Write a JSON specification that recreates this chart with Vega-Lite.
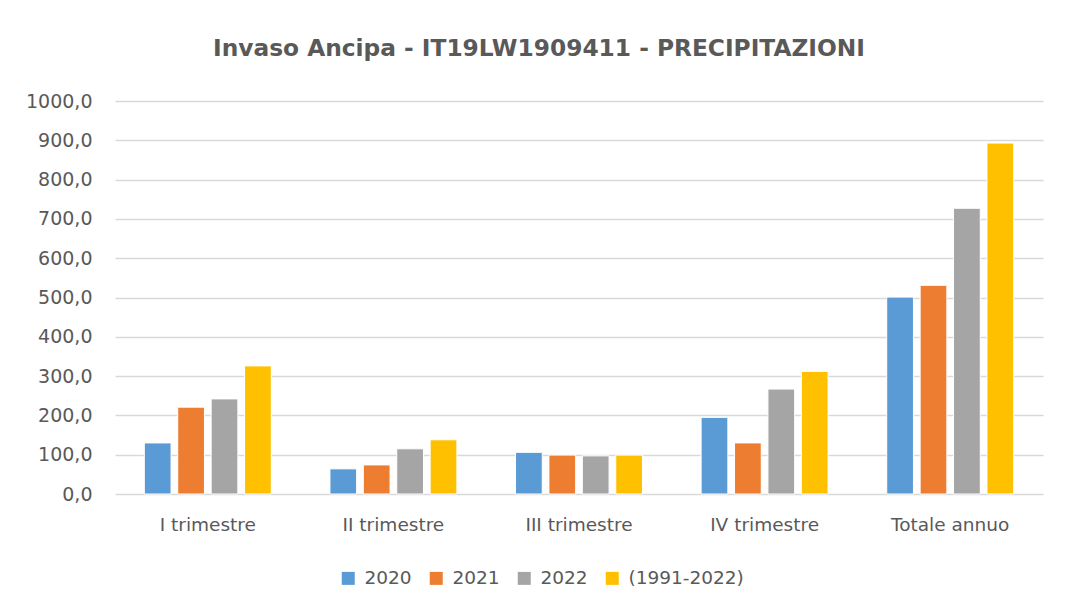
{
  "$schema": "https://vega.github.io/schema/vega-lite/v6.json",
  "width": 928,
  "height": 393,
  "autosize": {"type": "none"},
  "padding": {"left": 115, "top": 101, "right": 32, "bottom": 120},
  "background": "white",
  "title": {
    "text": "Invaso Ancipa - IT19LW1909411 - PRECIPITAZIONI",
    "font": "DejaVu Sans",
    "fontSize": 23.3,
    "fontWeight": "bold",
    "color": "#595959",
    "anchor": "middle",
    "dx": -40,
    "offset": 31
  },
  "data": {
    "values": [
      {"periodo": "I trimestre", "serie": "2020", "mm": 130},
      {"periodo": "I trimestre", "serie": "2021", "mm": 221},
      {"periodo": "I trimestre", "serie": "2022", "mm": 242},
      {"periodo": "I trimestre", "serie": "(1991-2022)", "mm": 326},
      {"periodo": "II trimestre", "serie": "2020", "mm": 64},
      {"periodo": "II trimestre", "serie": "2021", "mm": 74},
      {"periodo": "II trimestre", "serie": "2022", "mm": 115},
      {"periodo": "II trimestre", "serie": "(1991-2022)", "mm": 138},
      {"periodo": "III trimestre", "serie": "2020", "mm": 106},
      {"periodo": "III trimestre", "serie": "2021", "mm": 99},
      {"periodo": "III trimestre", "serie": "2022", "mm": 97},
      {"periodo": "III trimestre", "serie": "(1991-2022)", "mm": 99},
      {"periodo": "IV trimestre", "serie": "2020", "mm": 195},
      {"periodo": "IV trimestre", "serie": "2021", "mm": 130},
      {"periodo": "IV trimestre", "serie": "2022", "mm": 267},
      {"periodo": "IV trimestre", "serie": "(1991-2022)", "mm": 312},
      {"periodo": "Totale annuo", "serie": "2020", "mm": 501},
      {"periodo": "Totale annuo", "serie": "2021", "mm": 531},
      {"periodo": "Totale annuo", "serie": "2022", "mm": 727},
      {"periodo": "Totale annuo", "serie": "(1991-2022)", "mm": 893}
    ]
  },
  "mark": {"type": "bar", "stroke": "white", "strokeWidth": 1},
  "encoding": {
    "x": {
      "field": "periodo",
      "type": "nominal",
      "sort": ["I trimestre", "II trimestre", "III trimestre", "IV trimestre", "Totale annuo"],
      "scale": {"paddingInner": 0.316, "paddingOuter": 0.158},
      "axis": {
        "title": null,
        "labelAngle": 0,
        "ticks": false,
        "domain": false,
        "labelPadding": 21,
        "labelFont": "DejaVu Sans",
        "labelFontSize": 18.5,
        "labelColor": "#595959"
      }
    },
    "xOffset": {
      "field": "serie",
      "type": "nominal",
      "sort": ["2020", "2021", "2022", "(1991-2022)"],
      "scale": {"paddingInner": 0.2, "paddingOuter": 0}
    },
    "y": {
      "field": "mm",
      "type": "quantitative",
      "scale": {"domain": [0, 1000], "nice": false},
      "axis": {
        "title": null,
        "values": [0, 100, 200, 300, 400, 500, 600, 700, 800, 900, 1000],
        "labelExpr": "replace(format(datum.value, '.1f'), '.', ',')",
        "ticks": false,
        "domain": false,
        "labelPadding": 23,
        "labelFont": "DejaVu Sans",
        "labelFontSize": 19,
        "labelColor": "#595959",
        "gridColor": "#D9D9D9",
        "gridWidth": 1.5
      }
    },
    "color": {
      "field": "serie",
      "type": "nominal",
      "sort": ["2020", "2021", "2022", "(1991-2022)"],
      "scale": {
        "domain": ["2020", "2021", "2022", "(1991-2022)"],
        "range": ["#5B9BD5", "#ED7D31", "#A5A5A5", "#FFC000"]
      },
      "legend": {
        "title": null,
        "orient": "none",
        "direction": "horizontal",
        "legendX": 224,
        "legendY": 468,
        "symbolType": "square",
        "symbolSize": 169,
        "symbolStrokeWidth": 0,
        "labelFont": "DejaVu Sans",
        "labelFontSize": 18.5,
        "labelColor": "#595959",
        "labelOffset": 7,
        "columnPadding": 15
      }
    }
  },
  "config": {
    "view": {"stroke": null}
  }
}
